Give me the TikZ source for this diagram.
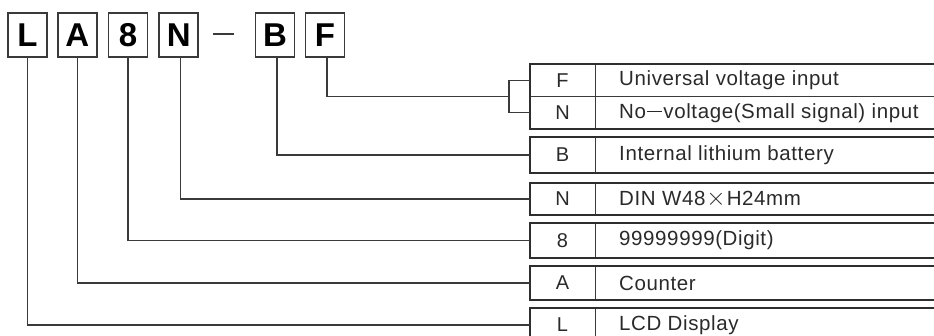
\documentclass[tikz,border=0pt]{standalone}
\usepackage{fontspec}
\setmainfont{Liberation Sans}
\newfontfamily\descfont[LetterSpace=3]{Liberation Sans}
\definecolor{ln}{HTML}{3A3A3A}
\definecolor{txt}{HTML}{2A2A2A}
\begin{document}
\begin{tikzpicture}[x=1pt,y=-1pt,
  keybox/.style={draw=ln,line width=1.6pt,minimum width=39pt,minimum height=44pt,inner sep=0pt,
    font=\fontsize{33}{33}\selectfont\bfseries,text=black},
  codecell/.style={minimum width=65pt,inner sep=0pt,font=\descfont\fontsize{20}{20}\selectfont,text=txt},
  desc/.style={anchor=west,inner sep=0pt,font=\descfont\fontsize{20.5}{20.5}\selectfont,text=txt},
  conn/.style={draw=ln,line width=1.3pt},
  outer/.style={draw=ln!80!black,line width=2.2pt},
  inner/.style={draw=ln,line width=1pt}]
\useasboundingbox (0,0) rectangle (934,336);
% top code boxes
\node[keybox] (kL) at (27.5,35) {L};
\node[keybox] (kA) at (77.3,35) {A};
\node[keybox] (k8) at (128,35) {8};
\node[keybox] (kN) at (178.7,35) {N};
\node[draw=none,minimum width=21pt,inner sep=0pt] (dash) at (223.5,34) {};
\draw[ln,line width=2pt] (dash.west) -- (dash.east);
\node[keybox] (kB) at (275,35) {B};
\node[keybox] (kF) at (325,35) {F};
% table rows: code cells
\node[codecell,minimum height=32.5pt] (cF) at (562.5,80.25) {F};
\node[codecell,minimum height=32.5pt] (cN2) at (562.5,112.75) {N};
\node[codecell,minimum height=36pt] (cB) at (562.5,155) {B};
\node[codecell,minimum height=32pt] (cN) at (562.5,199) {N};
\node[codecell,minimum height=35pt] (c8) at (562.5,240.5) {8};
\node[codecell,minimum height=34pt] (cA) at (562.5,283) {A};
\node[codecell,minimum height=34pt] (cL) at (562.5,325) {L};
% descriptions
\node[desc] (dF) at (619,80.5) {Universal voltage input};
\node[desc] (dN2) at (619,113) {No\hspace{1pt}\rule[0.3em]{0.75em}{0.07em}\hspace{1pt}voltage(Small signal) input};
\node[desc] (dB) at (619,155) {Internal lithium battery};
\node[desc] (dN) at (619,199) {DIN W48\hspace{1pt}{\fontsize{26}{26}\selectfont$\times$}\hspace{1pt}H24mm};
\node[desc] (d8) at (619,240.5) {99999999(Digit)};
\node[desc] (dA) at (619,283) {Counter};
\node[desc] (dL) at (619,325) {LCD Display};
% table borders
\draw[inner] (530,96.5) -- (940,96.5);
\foreach \t/\b in {64/129,137/173,183/215,223/258,266/300,308/345}{
  \draw[inner] (595,\t) -- (595,\b);
  \draw[outer] (940,\t) -- (530,\t) -- (530,\b) -- (940,\b);
}
% connectors
\coordinate (brk) at (509,96.5);
\draw[conn] ([xshift=2pt]kF.south) |- (brk);
\draw[conn] (cF.west) -| (brk) |- (cN2.west);
\draw[conn] ([xshift=2pt]kB.south) |- (cB.west);
\draw[conn] ([xshift=2pt]kN.south) |- (cN.west);
\draw[conn] (k8.south) |- (c8.west);
\draw[conn] (kA.south) |- (cA.west);
\draw[conn] (kL.south) |- (cL.west);
\end{tikzpicture}
\end{document}
